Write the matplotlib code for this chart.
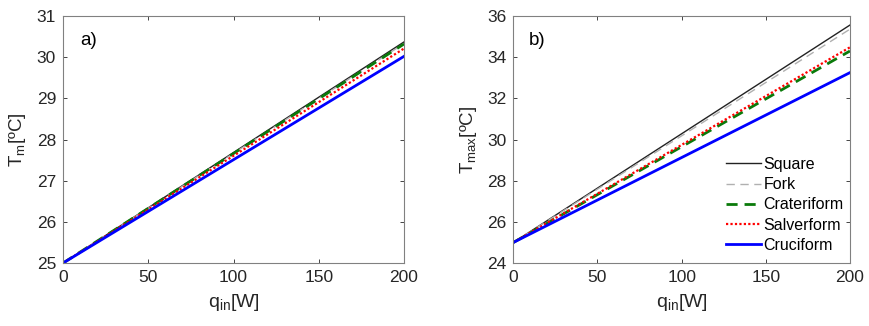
import matplotlib
matplotlib.use("Agg")
import matplotlib.pyplot as plt

plt.rcParams["font.family"] = ["Liberation Sans", "DejaVu Sans"]
plt.rcParams["mathtext.fontset"] = "custom"
plt.rcParams["mathtext.rm"] = "Liberation Sans"
plt.rcParams["mathtext.it"] = "Liberation Sans"

# heat input [W]
q_in = [0, 200]

# panel a: mean temperature
tm_square = [25.0, 30.37]
tm_fork = [25.0, 30.33]
tm_crateriform = [25.0, 30.32]
tm_salverform = [25.0, 30.21]
tm_cruciform = [25.0, 30.02]

# panel b: max temperature
tmax_square = [25.0, 35.56]
tmax_fork = [25.0, 35.36]
tmax_crateriform = [25.0, 34.30]
tmax_salverform = [25.0, 34.48]
tmax_cruciform = [25.0, 33.25]

names = ["Square", "Fork", "Crateriform", "Salverform", "Cruciform"]
styles = [
    dict(color="#222222", lw=1.0, ls="-"),
    dict(color="#b0b0b0", lw=1.0, ls=(0, (6, 4))),
    dict(color="#0a7a0a", lw=2.0, ls=(0, (4, 2.5))),
    dict(color="#ff0000", lw=1.6, ls=(0, (1, 1))),
    dict(color="#0000ff", lw=2.0, ls="-"),
]

fig = plt.figure(figsize=(8.7, 3.26), dpi=100)
ax_a = fig.add_axes([0.0724, 0.193, 0.392, 0.758])
ax_b = fig.add_axes([0.590, 0.193, 0.387, 0.758])

series_a = [tm_square, tm_fork, tm_crateriform, tm_salverform, tm_cruciform]
series_b = [tmax_square, tmax_fork, tmax_crateriform, tmax_salverform, tmax_cruciform]

for ax, series in ((ax_a, series_a), (ax_b, series_b)):
    for name, vals, st in zip(names, series, styles):
        ax.plot(q_in, vals, label=name, **st)
    ax.set_xlim(0, 200)
    ax.set_xticks([0, 50, 100, 150, 200])
    ax.tick_params(direction="in", labelsize=12.5, colors="#262626",
                   length=3, width=0.6, pad=5, top=True, right=True,
                   labeltop=False, labelright=False)
    for sp in ax.spines.values():
        sp.set_color("#808080")
        sp.set_linewidth(0.8)
    ax.set_xlabel(r"q$_{\mathrm{in}}$[W]", fontsize=14, color="#262626", labelpad=5)

ax_a.set_ylim(25, 31)
ax_a.set_yticks(range(25, 32))
ax_a.set_ylabel(r"T$_{\mathrm{m}}$[ºC]", fontsize=13.5, color="#262626", labelpad=6)
ax_a.text(0.05, 0.9, "a)", transform=ax_a.transAxes, fontsize=13.5, va="center")

ax_b.set_ylim(24, 36)
ax_b.set_yticks(range(24, 37, 2))
ax_b.set_ylabel(r"T$_{\mathrm{max}}$[ºC]", fontsize=13.5, color="#262626", labelpad=6)
ax_b.text(0.045, 0.9, "b)", transform=ax_b.transAxes, fontsize=13.5, va="center")
ax_b.legend(loc="upper left", bbox_to_anchor=(0.632, 0.43), frameon=False,
            borderpad=0, borderaxespad=0, fontsize=11.5, handlelength=2.2,
            handletextpad=0.15, labelspacing=0.33)

fig.savefig("out.png", dpi=100)
